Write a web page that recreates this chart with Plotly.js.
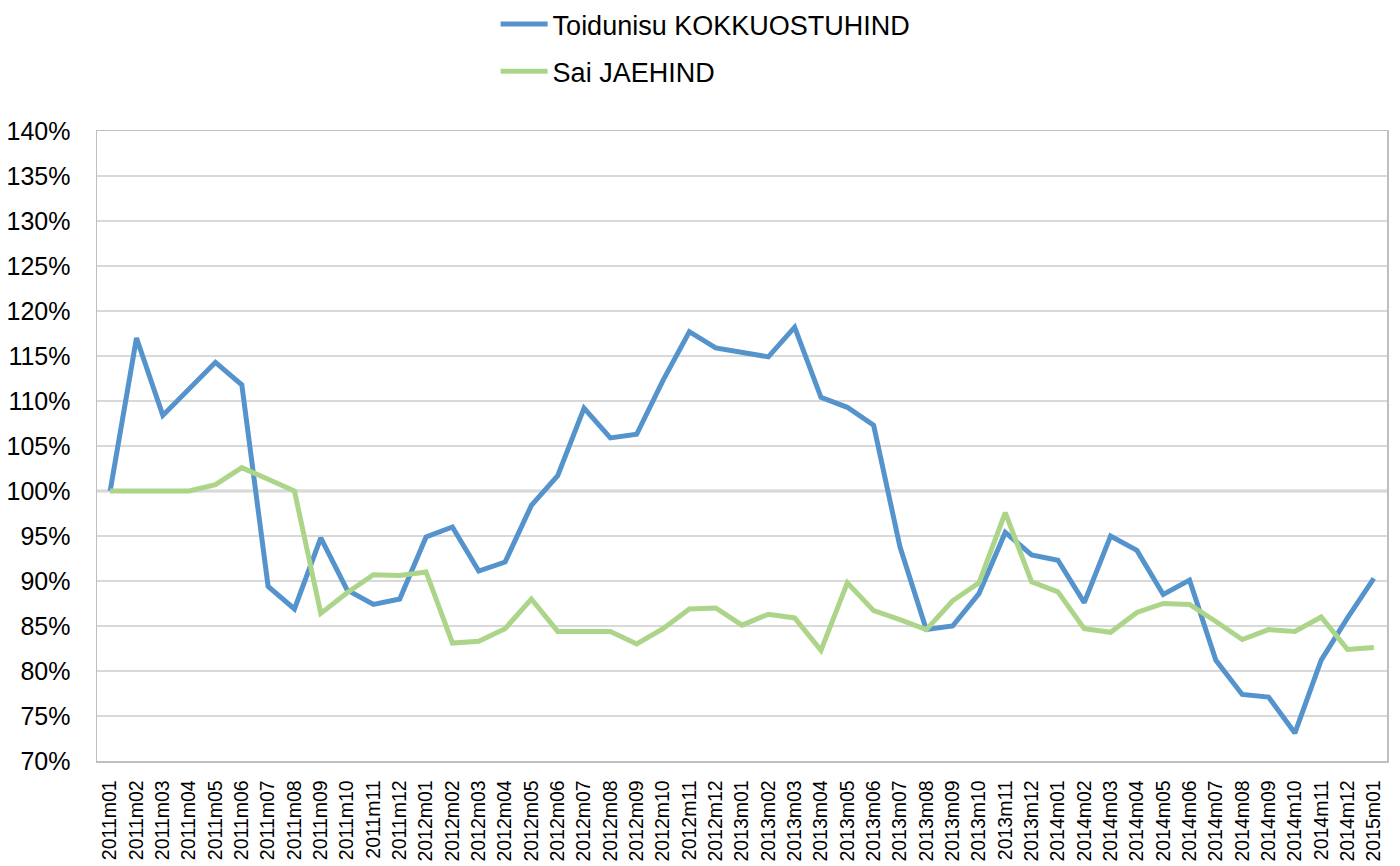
<!DOCTYPE html>
<html>
<head>
<meta charset="utf-8">
<script src="https://cdn.plot.ly/plotly-3.0.1.min.js"></script>
<style>html,body{margin:0;padding:0;background:#fff;}#chart{width:1400px;height:866px;}</style>
</head>
<body>
<div id="chart"></div>
<script>
const months = [
 "2011m01","2011m02","2011m03","2011m04","2011m05","2011m06","2011m07","2011m08","2011m09","2011m10","2011m11","2011m12",
 "2012m01","2012m02","2012m03","2012m04","2012m05","2012m06","2012m07","2012m08","2012m09","2012m10","2012m11","2012m12",
 "2013m01","2013m02","2013m03","2013m04","2013m05","2013m06","2013m07","2013m08","2013m09","2013m10","2013m11","2013m12",
 "2014m01","2014m02","2014m03","2014m04","2014m05","2014m06","2014m07","2014m08","2014m09","2014m10","2014m11","2014m12",
 "2015m01"
];
const toidunisu = [
 100.0,117.0,108.4,111.3,114.3,111.8,89.4,86.9,94.8,89.0,87.4,88.0,
 94.9,96.0,91.1,92.1,98.4,101.7,109.2,105.9,106.3,112.3,117.7,115.9,
 115.4,114.9,118.2,110.4,109.3,107.3,93.8,84.6,85.0,88.6,95.4,92.9,
 92.3,87.6,95.0,93.4,88.5,90.1,81.2,77.4,77.1,73.1,81.2,85.9,
 90.3
];
const sai = [
 100.0,100.0,100.0,100.0,100.7,102.6,101.3,100.0,86.4,88.7,90.7,90.6,
 91.0,83.1,83.3,84.7,88.0,84.4,84.4,84.4,83.0,84.7,86.9,87.0,
 85.1,86.3,85.9,82.3,89.8,86.7,85.7,84.6,87.8,89.8,97.6,89.9,
 88.8,84.7,84.3,86.5,87.5,87.4,85.5,83.5,84.6,84.4,86.0,82.4,
 82.6
];
const seriesNames = ["Toidunisu KOKKUOSTUHIND", "Sai JAEHIND"];
const baseline = 100;

const font = "Liberation Sans, Arial, sans-serif";
const traces = [
  {x: months, y: toidunisu, name: seriesNames[0], type: "scatter", mode: "lines",
   line: {color: "#5593cc", width: 5}, legendgroup: "a"},
  {x: months, y: sai, name: seriesNames[1], type: "scatter", mode: "lines",
   line: {color: "#acd58a", width: 5}, legendgroup: "b"}
];
const layout = {
  width: 1400, height: 866,
  margin: {l: 97, r: 13, t: 131, b: 105},
  paper_bgcolor: "#fff", plot_bgcolor: "#fff",
  font: {family: font, color: "#000", size: 20},
  showlegend: true,
  legend: {xref: "paper", yref: "container", x: 0.309, xanchor: "left", y: 1.004, yanchor: "top",
           traceorder: "grouped", tracegroupgap: 9, itemwidth: 47,
           font: {family: font, size: 27, color: "#000"}},
  xaxis: {type: "category", range: [-0.5, 48.5], tickmode: "linear", tick0: 0, dtick: 1,
          tickangle: -90, tickfont: {size: 19.5},
          showgrid: false, showline: true, linecolor: "#bfbfbf", linewidth: 1.5, mirror: true,
          ticks: "", ticklabelstandoff: 10, automargin: false},
  yaxis: {range: [70, 140], dtick: 5, ticksuffix: "%", tickfont: {size: 25},
          showgrid: true, gridcolor: "#d9d9d9", gridwidth: 1.5,
          showline: true, linecolor: "#bfbfbf", linewidth: 1.5, mirror: true,
          zeroline: false, ticks: "", ticklabelstandoff: 20, automargin: false},
  shapes: [{type: "line", xref: "paper", x0: 0, x1: 1, yref: "y", y0: baseline, y1: baseline,
            line: {color: "#d0d0d0", width: 3}, layer: "below"}]
};
Plotly.newPlot("chart", traces, layout, {displayModeBar: false, staticPlot: true});
</script>
</body>
</html>
